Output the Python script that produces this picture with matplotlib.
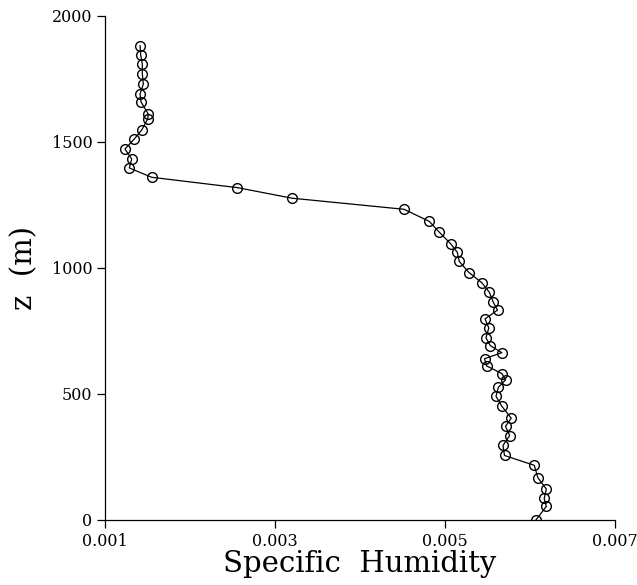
"""Specific humidity profile: z vs q."""
import matplotlib
matplotlib.use("Agg")
import matplotlib.pyplot as plt

# profile (top to bottom)
z = [1882, 1845, 1810, 1770, 1730, 1690, 1659, 1611, 1591, 1548,
     1512, 1472, 1433, 1397, 1360, 1319, 1277, 1233, 1185, 1142,
     1096, 1062, 1026, 982, 942, 904, 864, 833, 798, 762,
     723, 692, 664, 640, 611, 581, 556, 526, 491, 452,
     404, 372, 335, 296, 256, 217, 168, 123, 86, 54, 0]
q = [0.001412, 0.001420, 0.001439, 0.001439, 0.001451, 0.001412, 0.001424, 0.001509, 0.001502, 0.001432,
     0.001345, 0.001235, 0.001314, 0.001286, 0.001549, 0.002556, 0.003200, 0.004518, 0.004815, 0.004933,
     0.005067, 0.005145, 0.005168, 0.005282, 0.005432, 0.005521, 0.005568, 0.005618, 0.005471, 0.005515,
     0.005482, 0.005533, 0.005669, 0.005465, 0.005491, 0.005670, 0.005712, 0.005627, 0.005600, 0.005667,
     0.005779, 0.005712, 0.005761, 0.005682, 0.005700, 0.006050, 0.006092, 0.006192, 0.006167, 0.006192, 0.006070]

xticks = [0.001, 0.003, 0.005, 0.007]
xticklabels = ["0.001", "0.003", "0.005", "0.007"]
yticks = [0, 500, 1000, 1500, 2000]

plt.rcParams["font.family"] = "DejaVu Serif"

fig = plt.figure(figsize=(6.37, 5.85), dpi=100)
ax = fig.add_axes([105 / 637, 65 / 585, 510 / 637, 504 / 585])

ax.plot(q, z, color="black", lw=0.9, marker="o", ms=7, mfc="none",
        mec="black", mew=1.0)

ax.set_xlim(0.001, 0.007)
ax.set_ylim(0, 2000)
ax.set_xticks(xticks)
ax.set_xticklabels(xticklabels)
ax.set_yticks(yticks)
ax.tick_params(direction="out", length=6, width=0.9, labelsize=11.5, pad=3)
for side in ("top", "right"):
    ax.spines[side].set_visible(False)
for side in ("left", "bottom"):
    ax.spines[side].set_linewidth(0.9)

ax.set_xlabel("Specific  Humidity", fontsize=21, labelpad=0)
ax.set_ylabel("z  (m)", fontsize=21, labelpad=10)

fig.savefig("out.png", dpi=100)
